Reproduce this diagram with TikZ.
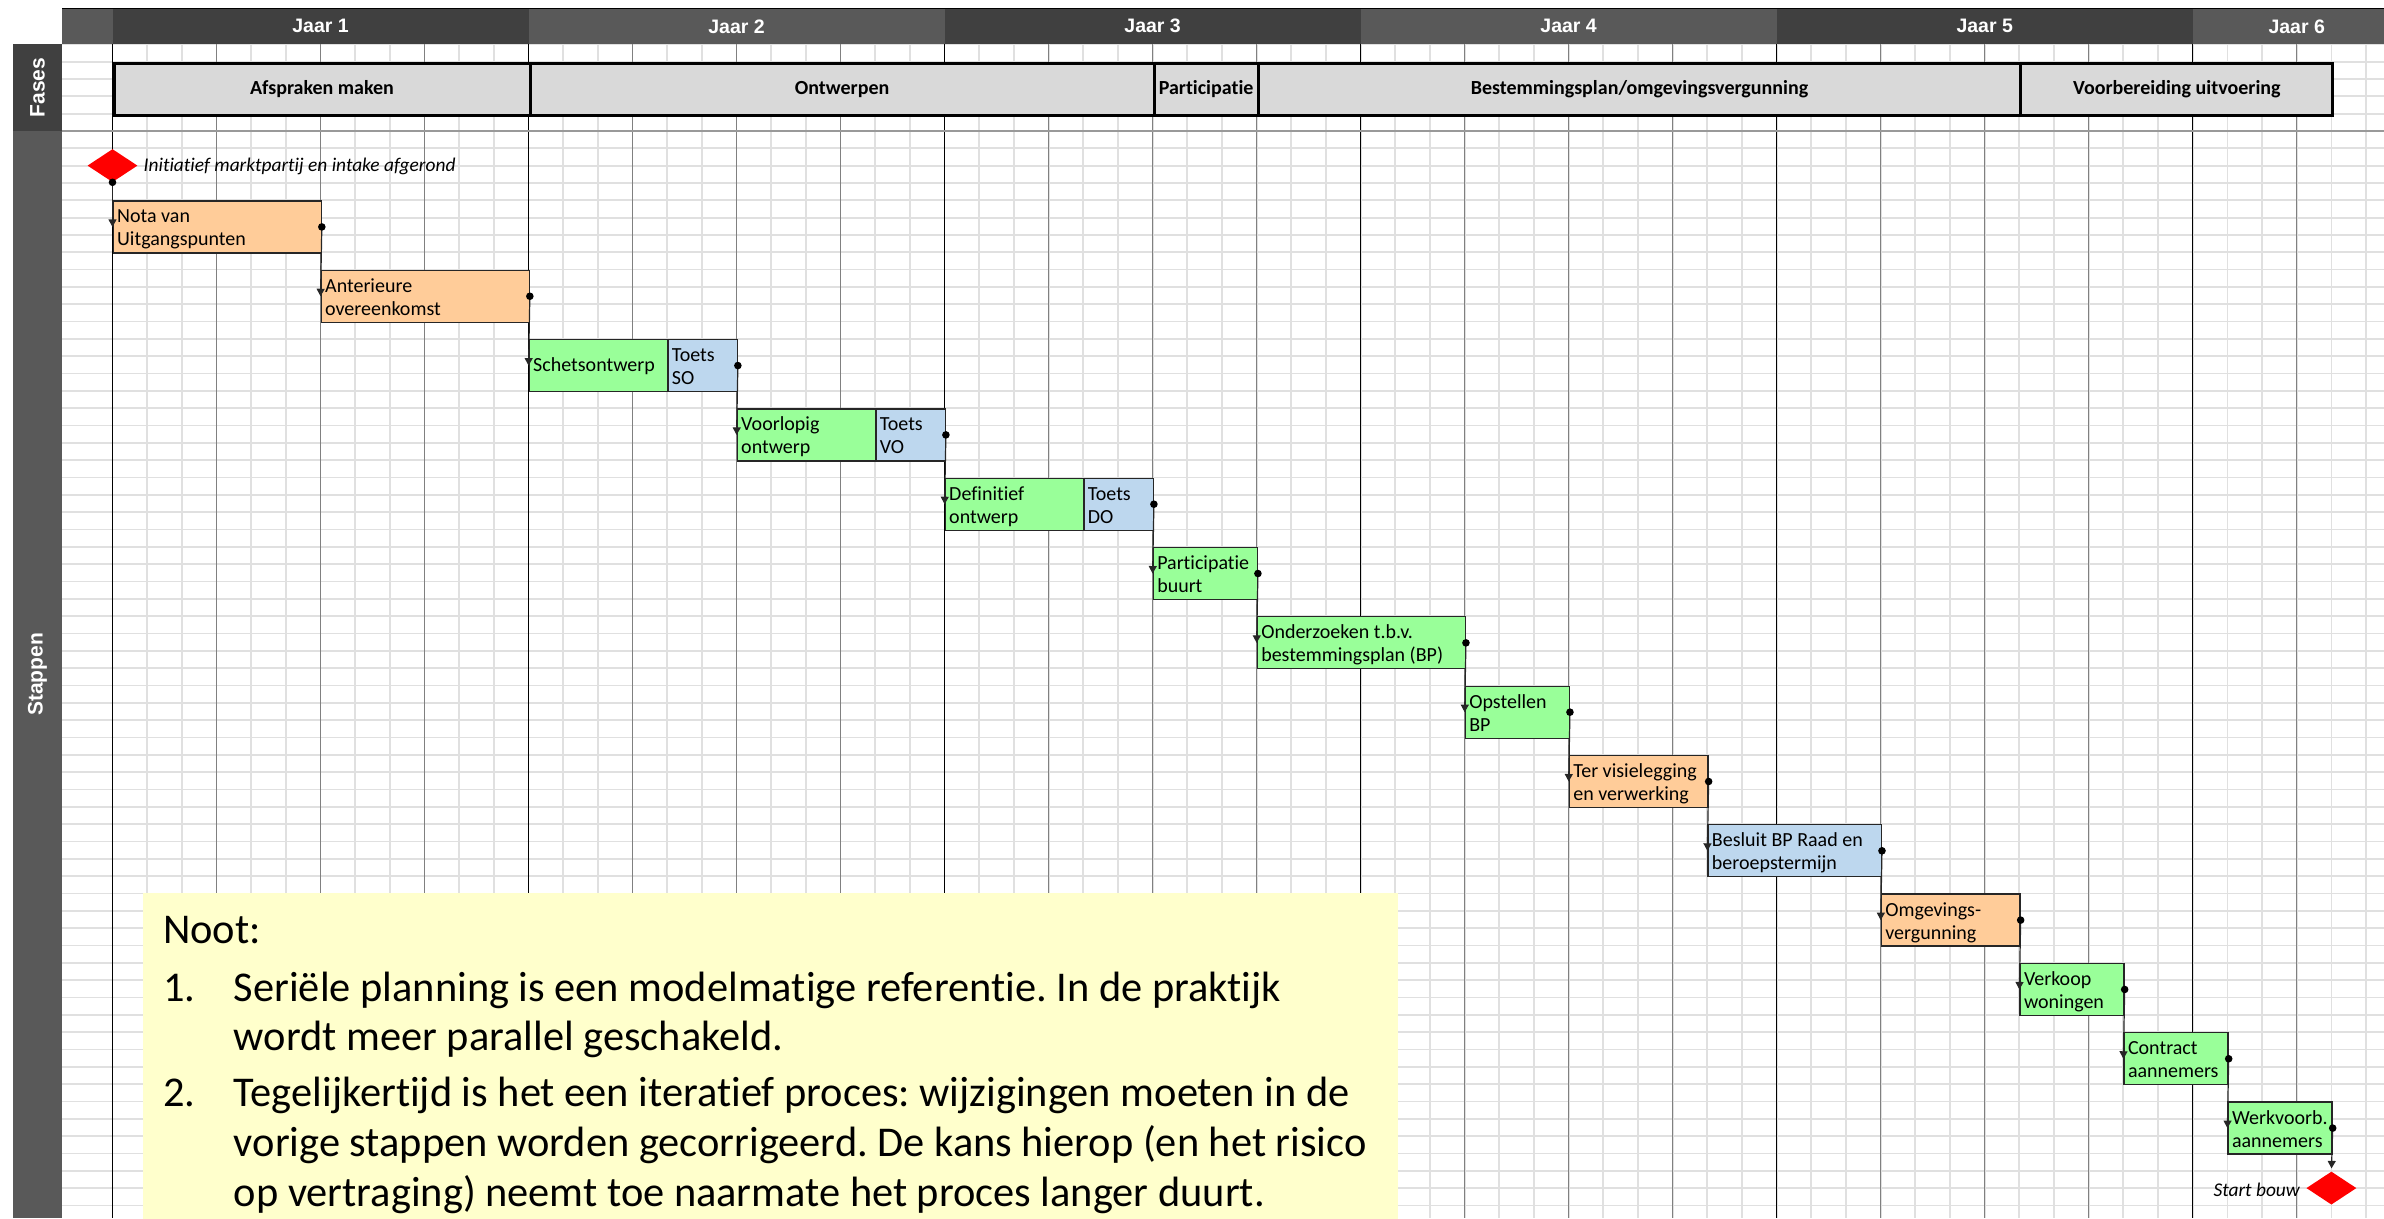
\documentclass[tikz,border=0pt]{standalone}
\usepackage{fontspec}
\setmainfont{Carlito}[Ligatures=NoCommon]
\newfontfamily\arialfont{Liberation Sans}
\usetikzlibrary{arrows.meta,shapes.geometric}
\frenchspacing

\definecolor{kopdonker}{HTML}{404040}
\definecolor{koplicht}{HTML}{595959}
\definecolor{fasegrijs}{HTML}{D9D9D9}
\definecolor{perzik}{HTML}{FFCC99}
\definecolor{lichtgroen}{HTML}{99FF99}
\definecolor{lichtblauw}{HTML}{BDD7EE}
\definecolor{nootgeel}{HTML}{FFFFCC}
\definecolor{rasterkleur}{HTML}{E0E0E0}

\begin{document}
\begin{tikzpicture}[x=1pt, y=-1pt,
    raster/.style={rasterkleur, line width=1.8pt},
    kwartaal/.style={black!50, line width=1.3pt},
    jaarlijn/.style={black, line width=1.4pt},
    jaarcel/.style={minimum height=36pt, minimum width=416.04pt, inner sep=0pt, text=white,
      font=\arialfont\bfseries\fontsize{19.5}{22}\selectfont},
    zijtekst/.style={rotate=90, text=white, inner sep=0pt,
      font=\arialfont\bfseries\fontsize{21}{24}\selectfont},
    fase/.style={draw=black, line width=3pt, fill=fasegrijs, minimum height=52pt,
      inner sep=0pt, anchor=north west, font=\bfseries\fontsize{20}{23}\selectfont},
    taak/.style={draw=black!85, line width=1.3pt, minimum height=52pt, inner xsep=4pt,
      inner ysep=0pt, text height=22pt, text depth=30pt, anchor=north west, align=flush left,
      font=\fontsize{20}{23}\selectfont},
    mijlpaal/.style={diamond, fill=red, minimum width=50pt, minimum height=33pt, inner sep=0pt},
    link/.style={black!85, line width=1.2pt, -{Triangle[length=7.5pt,width=8pt]}},
    nootregel/.style={anchor=base west, inner sep=0pt, font=\fontsize{42.4}{50}\selectfont}]
  \useasboundingbox (0,0) rectangle (2384,1218);
  \clip (0,0) rectangle (2384,1218);

  % raster
  \foreach \k in {0,...,67}
    \draw[raster] (62.4,{44.3+17.33*\k}) -- (2384,{44.3+17.33*\k});
  \foreach \m in {1,...,65}
    \draw[raster] ({112.5+34.67*\m},44.3) -- ({112.5+34.67*\m},1218);
  \foreach \m in {3,6,...,63}
    \draw[kwartaal] ({112.5+34.67*\m},44.3) -- ({112.5+34.67*\m},1218);
  \foreach \m in {0,12,...,60}
    \draw[jaarlijn] ({112.5+34.67*\m},44.3) -- ({112.5+34.67*\m},1218);
  \draw[black!40, line width=2pt] (62.4,131) -- (2384,131);

  % kop met jaren
  \fill[koplicht] (62.4,8.3) rectangle (112.5,44.3);
  \node[jaarcel, fill=kopdonker] (jaar1) at (320.52,26.3) {Jaar 1};
  \node[jaarcel, fill=koplicht] (jaar2) at (736.56,26.3) {Jaar 2};
  \node[jaarcel, fill=kopdonker] (jaar3) at (1152.6,26.3) {Jaar 3};
  \node[jaarcel, fill=koplicht] (jaar4) at (1568.64,26.3) {Jaar 4};
  \node[jaarcel, fill=kopdonker] (jaar5) at (1984.68,26.3) {Jaar 5};
  \node[jaarcel, fill=koplicht, minimum width=208.02pt] (jaar6) at (2296.71,26.3) {Jaar 6};
  \draw[line width=1.5pt] (62.4,8.3) -- (2384,8.3);

  % zijbalk
  \fill[kopdonker] (12.6,44.3) rectangle (62.4,131);
  \fill[koplicht] (12.6,131) rectangle (62.4,1218);
  \node[zijtekst] (fases) at (37.5,87.7) {Fases};
  \node[zijtekst] (stappen) at (37.5,674.5) {Stappen};

  % fases
  \node[fase, minimum width=416.04pt] (afspraken) at (112.5,61.7) {Afspraken maken};
  \node[fase, minimum width=624.06pt] (ontwerpen) at (528.54,61.7) {Ontwerpen};
  \node[fase, minimum width=104.01pt] (participatie) at (1152.6,61.7) {Participatie};
  \node[fase, minimum width=762.74pt] (bestemming) at (1256.61,61.7) {Bestemmingsplan/omgevingsvergunning};
  \node[fase, minimum width=312.03pt] (voorbereiding) at (2019.35,61.7) {Voorbereiding uitvoering};

  % stappen
  \node[mijlpaal] (ms1) at (112.5,165.61) {};
  \node[anchor=base west, inner sep=0pt, font=\itshape\fontsize{19.4}{22}\selectfont] (ms1tekst) at (143.5,171.7) {Initiatief marktpartij en intake afgerond};
  \node[taak, fill=perzik, text width=200.02pt] (nota) at (112.5,200.27) {Nota van\\Uitgangspunten};
  \node[taak, fill=perzik, text width=200.02pt] (anter) at (320.52,269.59) {Anterieure\\overeenkomst};
  \node[taak, fill=lichtgroen, text width=130.68pt, text height=32.4pt, text depth=19.6pt] (schets) at (528.54,338.91) {Schetsontwerp};
  \node[taak, fill=lichtblauw, text width=61.34pt] (toetsso) at (667.22,338.91) {Toets\\SO};
  \node[taak, fill=lichtgroen, text width=130.68pt] (voorl) at (736.56,408.23) {Voorlopig\\ontwerp};
  \node[taak, fill=lichtblauw, text width=61.34pt] (toetsvo) at (875.24,408.23) {Toets\\VO};
  \node[taak, fill=lichtgroen, text width=130.68pt] (defin) at (944.58,477.55) {Definitief\\ontwerp};
  \node[taak, fill=lichtblauw, text width=61.34pt] (toetsdo) at (1083.26,477.55) {Toets\\DO};
  \node[taak, fill=lichtgroen, text width=96.01pt] (partic) at (1152.6,546.87) {Participatie\\buurt};
  \node[taak, fill=lichtgroen, text width=200.02pt] (onderz) at (1256.61,616.19) {Onderzoeken t.b.v.\\bestemmingsplan (BP)};
  \node[taak, fill=lichtgroen, text width=96.01pt] (opst) at (1464.63,685.51) {Opstellen\\BP};
  \node[taak, fill=perzik, text width=130.68pt] (tervis) at (1568.64,754.83) {Ter visielegging\\en verwerking};
  \node[taak, fill=lichtblauw, text width=165.35pt] (besluit) at (1707.32,824.15) {Besluit BP Raad en\\beroepstermijn};
  \node[taak, fill=perzik, text width=130.68pt] (omgev) at (1880.67,893.47) {Omgevings-\\vergunning};
  \node[taak, fill=lichtgroen, text width=96.01pt] (verkoop) at (2019.35,962.79) {Verkoop\\woningen};
  \node[taak, fill=lichtgroen, text width=96.01pt] (contract) at (2123.36,1032.11) {Contract\\aannemers};
  \node[taak, fill=lichtgroen, text width=96.01pt] (werk) at (2227.37,1101.43) {Werkvoorb.\\aannemers};
  \node[mijlpaal] (ms2) at (2331.38,1188.08) {};
  \node[anchor=base east, inner sep=0pt, font=\itshape\fontsize{19.4}{22}\selectfont] (ms2tekst) at (2300,1196.7) {Start bouw};

  % verbindingen
  \draw[link] (ms1.south) -- (nota.west);
  \fill (ms1.south) circle[radius=3.8pt];
  \foreach \van/\naar in {nota/anter, anter/schets, toetsso/voorl, toetsvo/defin,
      toetsdo/partic, partic/onderz, onderz/opst, opst/tervis, tervis/besluit,
      besluit/omgev, omgev/verkoop, verkoop/contract, contract/werk} {
    \draw[link] (\van.east) -- (\naar.west);
    \fill (\van.east) circle[radius=3.8pt];
  }
  \draw[link, shorten >=3pt] (werk.east) -- (ms2.north);
  \fill (werk.east) circle[radius=3.8pt];

  % noot
  \node[fill=nootgeel, minimum width=1255pt, minimum height=330pt, anchor=north west, inner sep=0pt] (noot) at (143,893) {};
  \node[nootregel] (nootkop) at (163,943.3) {Noot:};
  \node[nootregel] (nr1) at (163,1001.7) {1.};
  \node[nootregel] (noot1a) at (233.7,1001.7) {Seriële planning is een modelmatige referentie. In de praktijk};
  \node[nootregel] (noot1b) at (233.7,1050) {wordt meer parallel geschakeld.};
  \node[nootregel] (nr2) at (163,1106) {2.};
  \node[nootregel] (noot2a) at (233.7,1106) {Tegelijkertijd is het een iteratief proces: wijzigingen moeten in de};
  \node[nootregel] (noot2b) at (233.7,1156.7) {vorige stappen worden gecorrigeerd. De kans hierop (en het risico};
  \node[nootregel] (noot2c) at (233.7,1206.7) {op vertraging) neemt toe naarmate het proces langer duurt.};
\end{tikzpicture}
\end{document}
